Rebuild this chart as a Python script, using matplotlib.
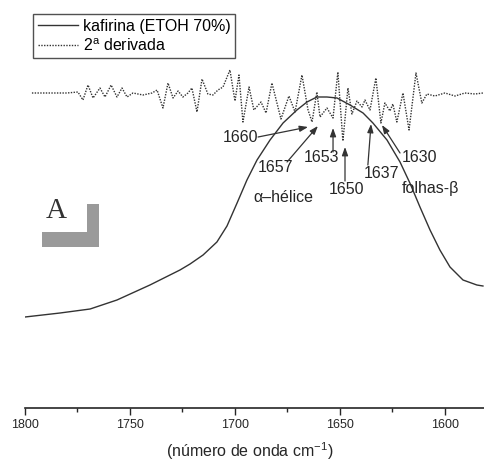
import numpy as np
import matplotlib
matplotlib.use("Agg")
import matplotlib.pyplot as plt
from matplotlib.patches import Rectangle

plt.rcParams['font.family'] = ['Liberation Sans', 'DejaVu Sans']

#--- Dados ---
# espectro (número de onda, intensidade arbitrária)
espectro_onda = [1800.0, 1783.3, 1769.0, 1756.2, 1740.5, 1726.2, 1721.4, 1715.2,
                 1708.6, 1703.8, 1699.0, 1694.3, 1689.5, 1683.3, 1677.1, 1670.5,
                 1665.7, 1661.0, 1656.2, 1651.4, 1645.2, 1639.0, 1634.3, 1627.6,
                 1621.4, 1616.7, 1611.9, 1607.1, 1602.4, 1597.6, 1591.4, 1584.8,
                 1581.9]
espectro_int = [0.91, 0.95, 0.99, 1.08, 1.23, 1.38, 1.44, 1.53,
                1.66, 1.82, 2.05, 2.28, 2.48, 2.68, 2.85, 2.98,
                3.06, 3.11, 3.11, 3.10, 3.03, 2.95, 2.85, 2.68,
                2.46, 2.25, 2.01, 1.78, 1.58, 1.41, 1.28, 1.23,
                1.22]

# 2a derivada (relativa à linha de base)
deriv_onda = [1796.7, 1786.7, 1780.0, 1774.8, 1772.4, 1770.0, 1767.6, 1764.3,
              1761.9, 1759.0, 1756.2, 1753.8, 1751.4, 1748.6, 1743.8, 1739.5,
              1737.1, 1734.3, 1731.9, 1729.5, 1727.1, 1724.8, 1722.4, 1720.5,
              1718.1, 1715.7, 1712.9, 1710.5, 1708.1, 1705.7, 1702.4, 1700.0,
              1698.1, 1696.2, 1693.3, 1691.0, 1687.6, 1685.2, 1682.4, 1678.1,
              1674.3, 1671.4, 1668.1, 1665.2, 1663.3, 1661.0, 1659.5, 1656.2,
              1653.3, 1651.0, 1648.6, 1646.2, 1644.3, 1641.9, 1639.5, 1638.1,
              1635.7, 1632.9, 1630.5, 1628.6, 1626.2, 1624.8, 1622.9, 1620.0,
              1617.1, 1613.8, 1611.0, 1608.6, 1604.8, 1600.0, 1595.2, 1590.5,
              1585.7, 1581.9]
deriv_int = [0.00, 0.00, 0.00, 0.01, -0.07, 0.08, -0.05, 0.05,
             -0.04, 0.08, -0.04, 0.05, -0.04, 0.00, -0.02, 0.00,
             0.03, -0.15, 0.10, -0.05, 0.02, -0.04, 0.00, 0.05,
             -0.19, 0.14, -0.01, -0.02, 0.03, 0.06, 0.23, -0.08,
             0.18, -0.29, 0.06, -0.17, -0.09, -0.20, 0.10, -0.26,
             -0.03, -0.19, 0.18, -0.17, -0.29, 0.01, -0.24, -0.15,
             -0.25, 0.21, -0.48, 0.05, -0.21, -0.08, -0.14, -0.07,
             -0.17, 0.15, -0.30, -0.10, -0.18, -0.11, -0.29, 0.00,
             -0.37, 0.20, -0.10, -0.01, -0.03, 0.00, -0.03, 0.00,
             -0.01, 0.00]
deriv_base = 3.15

# bandas: rótulo, posição do texto, início e ponta da seta
bandas = ['1660', '1657', '1653', '1650', '1637', '1630']
texto_xy = [(1697.6, 2.70), (1680.5, 2.41), (1658.6, 2.50),
            (1646.7, 2.18), (1630.0, 2.35), (1611.9, 2.50)]
seta_ini = [(1689.0, 2.71), (1675.2, 2.46), (1653.3, 2.56),
            (1647.6, 2.27), (1636.7, 2.43), (1621.4, 2.55)]
seta_fim = [(1665.2, 2.81), (1660.5, 2.82), (1653.3, 2.80),
            (1647.6, 2.61), (1635.2, 2.84), (1630.0, 2.83)]

ticks_maiores = [1800, 1750, 1700, 1650, 1600]
ticks_menores = [1775, 1725, 1675, 1625]

cor = '#333333'
cor_txt = '#262626'

#--- Figura ---
fig = plt.figure(figsize=(4.84, 4.62), dpi=100)
ax = fig.add_axes([25/484, 54/462, 459/484, 408/462])

ax.plot(espectro_onda, espectro_int, color=cor, lw=1.0, label='kafirina (ETOH 70%)')
ax.plot(deriv_onda, np.array(deriv_int) + deriv_base, color=cor, lw=1.0,
        linestyle=(0, (1, 1.0)), label='2$^\\mathregular{a}$ derivada')

for rot, txy, ini, fim in zip(bandas, texto_xy, seta_ini, seta_fim):
    ax.text(txy[0], txy[1], rot, fontsize=11.5, color=cor_txt, ha='center', va='center')
    ax.annotate('', xy=fim, xytext=ini,
                arrowprops=dict(arrowstyle='-|>,head_length=0.5,head_width=0.18',
                                color=cor, lw=0.9, shrinkA=0, shrinkB=0))

ax.text(1677.1, 2.10, 'α–hélice', fontsize=11.5, color=cor_txt, ha='center', va='center')
ax.text(1607.1, 2.20, 'folhas-β', fontsize=11.5, color=cor_txt, ha='center', va='center')

ax.set_xlim(1800, 1581.4)
ax.set_ylim(0, 4.08)
ax.set_xticks(ticks_maiores)
ax.set_xticks(ticks_menores, minor=True)
ax.set_yticks([])
for lado in ['left', 'right', 'top']:
    ax.spines[lado].set_visible(False)
ax.spines['bottom'].set_color(cor_txt)
ax.spines['bottom'].set_linewidth(1.2)
ax.tick_params(axis='x', which='major', direction='out', length=5, width=1,
               labelsize=9, pad=3, colors=cor_txt)
ax.tick_params(axis='x', which='minor', direction='out', length=3, width=1, colors=cor_txt)
ax.set_xlabel('(número de onda cm$^{\\mathregular{-1}}$)', fontsize=11.5, color=cor_txt)
ax.xaxis.set_label_coords(0.49, -0.08)

leg = ax.legend(loc='upper left', bbox_to_anchor=(33/484, 1 - 14/462),
                bbox_transform=fig.transFigure, fontsize=11.5, frameon=True,
                fancybox=False, handlelength=2.5, handletextpad=0.3,
                borderpad=0.3, labelspacing=0.2, borderaxespad=0)
leg.get_frame().set_edgecolor(cor_txt)
leg.get_frame().set_linewidth(1.0)

# letra A e marcador cinza
fig.text(56/484, 1 - 211/462, 'A', family='Liberation Serif', fontsize=21,
         color='#333333', ha='center', va='center')
fig.add_artist(Rectangle((87/484, 1 - 247/462), 12/484, 43/462,
                         transform=fig.transFigure, color='#9a9a9a', lw=0))
fig.add_artist(Rectangle((42/484, 1 - 247/462), 57/484, 15/462,
                         transform=fig.transFigure, color='#9a9a9a', lw=0))

fig.savefig('out.png', dpi=100)
